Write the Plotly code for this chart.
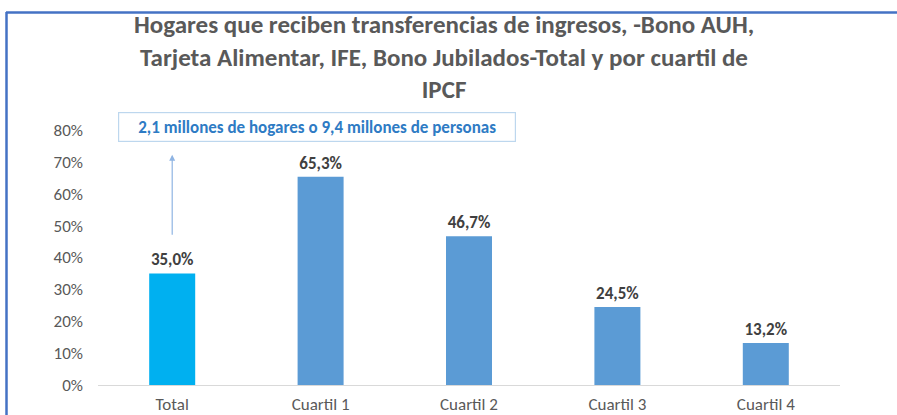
import plotly.graph_objects as go

categories = ["Total", "Cuartil 1", "Cuartil 2", "Cuartil 3", "Cuartil 4"]
values = [0.350, 0.653, 0.467, 0.245, 0.132]
bar_colors = ["#00B0F0", "#5B9BD5", "#5B9BD5", "#5B9BD5", "#5B9BD5"]
title_text = ("Hogares que reciben transferencias de ingresos, -Bono AUH,<br>"
              "Tarjeta Alimentar, IFE, Bono Jubilados-Total y por cuartil de<br>IPCF")
note_text = "2,1 millones de hogares o 9,4 millones de personas"

FONT = "Carlito, 'Liberation Sans Narrow', 'Arial Narrow', sans-serif"

fig = go.Figure()
fig.add_trace(go.Bar(
    x=categories, y=values,
    marker=dict(color=bar_colors, line=dict(width=0)),
    width=0.31,
    texttemplate="<b>%{y:.1%}</b>",
    textposition="outside",
    textfont=dict(family=FONT, size=17, color="#404040"),
    cliponaxis=False,
))

L, R, T, B = 98, 57, 130, 30
W, H = 897, 415
PW, PH = W - L - R, H - T - B

fig.update_layout(
    width=W, height=H,
    margin=dict(l=L, r=R, t=T, b=B, autoexpand=False),
    paper_bgcolor="white", plot_bgcolor="white",
    separators=",.",
    showlegend=False,
    font=dict(family=FONT, color="#595959"),
    xaxis=dict(
        showgrid=False, showline=True, linecolor="#D9D9D9", linewidth=1,
        ticks="", tickfont=dict(family=FONT, size=17, color="#595959"),
        ticklabelstandoff=4,
    ),
    yaxis=dict(
        range=[0, 0.8], dtick=0.1, tickformat=".0%",
        showgrid=False, zeroline=False, showline=False, ticks="",
        tickfont=dict(family=FONT, size=17, color="#595959"),
        ticklabelstandoff=14,
    ),
)

# title
fig.add_annotation(
    xref="paper", yref="paper",
    x=(444 - L) / PW, y=(385 - 57) / PH,
    text=f"<b>{title_text}</b>", showarrow=False,
    xanchor="center", yanchor="middle", align="center",
    font=dict(family=FONT, size=25, color="#595959"),
)

# frame (top and left borders)
fig.add_shape(type="line", xref="paper", yref="paper",
              xsizemode="pixel", ysizemode="pixel", xanchor=0, yanchor=0,
              x0=6 - L, x1=W - L + 5, y0=(H - B) - 12.5, y1=(H - B) - 12.5,
              line=dict(color="#4472C4", width=2.5))
fig.add_shape(type="line", xref="paper", yref="paper",
              xsizemode="pixel", ysizemode="pixel", xanchor=0, yanchor=0,
              x0=6.5 - L, x1=6.5 - L, y0=(H - B) - 12, y1=-B - 5,
              line=dict(color="#4472C4", width=2.5))

# note box
fig.add_annotation(
    xref="paper", yref="paper",
    x=(317 - L) / PW, y=(385 - 127) / PH,
    text=f"<b>{note_text}</b>", showarrow=False,
    xanchor="center", yanchor="middle",
    font=dict(family=FONT, size=17, color="#2E7BC4"),
    bordercolor="#BDD7EE", borderwidth=1.2, borderpad=4,
    bgcolor="white", width=388, height=20,
)
# arrow
fig.add_annotation(
    x=0, y=0.722, xref="x", yref="y",
    ax=0, ay=0.467, axref="x", ayref="y",
    text="", showarrow=True, arrowhead=2, arrowsize=1, arrowwidth=1.2,
    arrowcolor="#8FB4E3",
)

fig.write_html("out.html", config={"displayModeBar": False},
               post_script="document.body.style.margin='0';")
